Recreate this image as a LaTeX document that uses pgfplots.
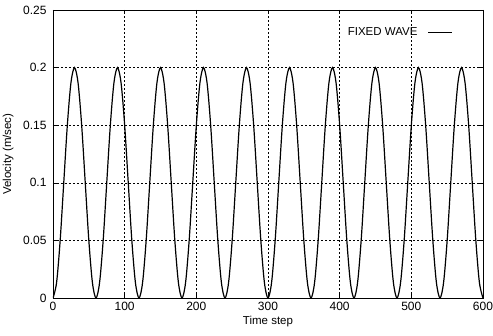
\documentclass[border=0pt]{standalone}
\usepackage{fontspec}
\setmainfont{Liberation Sans}
\usepackage{pgfplots}
\usepackage{pgfplotstable}
\pgfplotsset{compat=1.18}
\pgfplotstableread{
t v
0 0
5 0.0134
10 0.05
15 0.1
20 0.15
25 0.1866
30 0.2
35 0.1866
40 0.15
45 0.1
50 0.05
55 0.0134
60 0
65 0.0134
70 0.05
75 0.1
80 0.15
85 0.1866
90 0.2
95 0.1866
100 0.15
105 0.1
110 0.05
115 0.0134
120 0
125 0.0134
130 0.05
135 0.1
140 0.15
145 0.1866
150 0.2
155 0.1866
160 0.15
165 0.1
170 0.05
175 0.0134
180 0
185 0.0134
190 0.05
195 0.1
200 0.15
205 0.1866
210 0.2
215 0.1866
220 0.15
225 0.1
230 0.05
235 0.0134
240 0
245 0.0134
250 0.05
255 0.1
260 0.15
265 0.1866
270 0.2
275 0.1866
280 0.15
285 0.1
290 0.05
295 0.0134
300 0
305 0.0134
310 0.05
315 0.1
320 0.15
325 0.1866
330 0.2
335 0.1866
340 0.15
345 0.1
350 0.05
355 0.0134
360 0
365 0.0134
370 0.05
375 0.1
380 0.15
385 0.1866
390 0.2
395 0.1866
400 0.15
405 0.1
410 0.05
415 0.0134
420 0
425 0.0134
430 0.05
435 0.1
440 0.15
445 0.1866
450 0.2
455 0.1866
460 0.15
465 0.1
470 0.05
475 0.0134
480 0
485 0.0134
490 0.05
495 0.1
500 0.15
505 0.1866
510 0.2
515 0.1866
520 0.15
525 0.1
530 0.05
535 0.0134
540 0
545 0.0134
550 0.05
555 0.1
560 0.15
565 0.1866
570 0.2
575 0.1866
580 0.15
585 0.1
590 0.05
595 0.0134
600 0
}\wave
\begin{document}
\begin{tikzpicture}
\useasboundingbox (0,0) rectangle (493pt,336pt);
\begin{axis}[
  at={(53pt,38pt)}, anchor=south west,
  scale only axis, width=430pt, height=288pt,
  xmin=0, xmax=600, ymin=0, ymax=0.25,
  xtick={0,100,...,600},
  ytick={0,0.05,0.1,0.15,0.2,0.25},
  yticklabels={0,0.05,0.1,0.15,0.2,0.25},
  /pgf/number format/assume math mode=true,
  tick align=inside, major tick length=4pt,
  tick style={black, line width=0.5pt},
  axis line style={line width=0.6pt},
  grid=major,
  major grid style={black, line width=0.5pt, dash pattern=on 2pt off 2pt},
  ticklabel style={font=\fontsize{12}{14}\selectfont},
  xticklabel style={yshift=-1pt},
  yticklabel style={xshift=-3pt},
  xlabel={Time step}, ylabel={Velocity (m/sec)},
  label style={font=\fontsize{11.5}{13}\selectfont},
  xlabel style={at={(axis description cs:0.5,0)}, anchor=north, yshift=-15pt},
  ylabel style={at={(axis description cs:0,0.5)}, anchor=south, yshift=36pt},
  legend style={draw=none, fill=none, at={(axis cs:558,0.2306)}, anchor=east,
    font=\fontsize{11.5}{13}\selectfont, inner sep=0pt, column sep=8pt},
  legend plot pos=right,
  legend cell align=right,
  legend image code/.code={\draw[#1] (0pt,0pt) -- (24pt,0pt);},
]
\addplot[black, line width=1.2pt, smooth] table[x=t, y=v] {\wave};
\addlegendentry{FIXED WAVE}
\end{axis}
\end{tikzpicture}
\end{document}
